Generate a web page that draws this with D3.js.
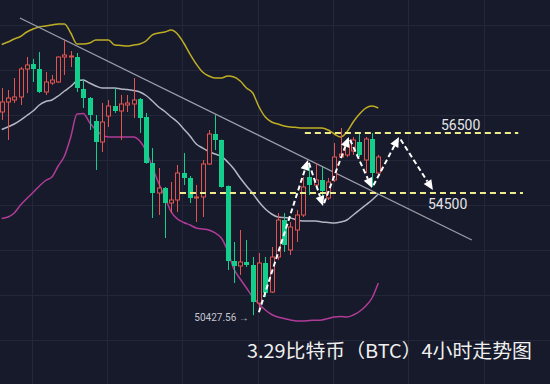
<!DOCTYPE html>
<html><head><meta charset="utf-8">
<script src="https://cdn.jsdelivr.net/npm/d3@7"></script>
<style>
html,body{margin:0;padding:0;background:#161a2a;overflow:hidden}
svg{display:block}
</style></head>
<body>
<svg id="chart" width="550" height="384"></svg>
<script>
// ---- Data (BTC 4h candles) ----
const opens  = [57200,57533,57600,57700,58633,58800,58633,57867,58167,58200,59033,59033,59033,57967,57667,56900,56200,57067,57400,57233,57433,57467,57633,57033,55500,54500,54667,54167,54267,55167,55000,54333,54367,55467,56467,56267,54733,52233,52067,52200,52100,50833,52167,51200,52367,53600,52600,53267,53767,55033,54767,54933,54333,54933,55700,55767,55900,56200,55600,56300,55167];
const highs  = [58000,57933,58333,58700,59033,58967,59200,58533,58433,59050,59600,59233,59167,58300,57700,57100,57500,57600,58000,57767,57767,58333,57667,57167,56000,55333,54700,54867,55433,55833,55067,54767,55600,56600,57100,56280,54750,52867,53267,52933,52367,52500,52367,52700,53833,53833,53533,53933,55033,55433,55500,55367,55000,56167,56667,56267,56367,56500,56367,56500,55767];
const lows   = [56933,56267,57500,57433,57833,58200,57833,57767,58100,58167,58433,58700,57867,57333,56600,55267,55867,56700,57167,56267,57200,57000,56500,55480,53667,53767,53000,53833,53867,54767,54167,53533,53700,55433,55933,54680,51933,51500,51767,52033,50427.56,50600,51033,51167,52267,52533,52433,52867,53700,54433,54667,54267,54267,54867,55667,55700,55767,55700,55167,54700,55150];
const closes = [57533,57667,57700,58633,58767,58633,57867,58200,58267,59033,59100,59067,58000,57667,57100,56200,56867,57400,57233,57467,57500,57600,57000,55500,54500,54667,54167,54267,55167,55000,54333,54367,55467,56467,56267,54700,52233,52067,52200,52100,50867,52167,51167,52367,53600,52767,53367,53767,54700,54767,54933,54567,54867,55700,55800,56100,56267,55767,56300,55167,55700];

// Bollinger bands
const bandUpper = [59450,59533,59633,59717,59867,59967,60033,60067,60100,60133,60133,59833,59467,59467,59500,59600,59600,59600,59433,59417,59400,59433,59467,59567,59767,59833,59867,59933,59800,59500,59133,58800,58533,58400,58333,58333,58400,58367,58233,58000,57833,57367,57033,56867,56800,56733,56700,56683,56667,56667,56667,56667,56600,56467,56367,56533,56867,57133,57333,57400,57333];
const bandMiddle = [56617,56700,56800,56933,57083,57233,57433,57550,57600,57733,57900,58050,58233,58267,58167,58067,58000,58000,58000,57967,57950,57917,57867,57750,57567,57367,57217,57033,56867,56633,56400,56133,56000,55883,55800,55717,55533,55300,55000,54733,54483,54200,53967,53800,53700,53683,53667,53600,53567,53567,53567,53533,53517,53500,53533,53600,53767,53933,54100,54267,54467];
const bandLower = [53650,53700,53833,54100,54317,54517,54733,54917,55033,55400,55733,56367,57133,57150,56850,56600,56433,56367,56367,56367,56367,56367,56233,55900,55367,54833,54367,53867,53633,53517,53433,53333,53300,53267,53167,53000,52567,51967,51633,51333,51033,50800,50600,50450,50367,50317,50267,50233,50233,50250,50257,50267,50317,50367,50383,50367,50433,50550,50733,51000,51500];

// Grid ticks
const gridIndex = [4.8, 16.8, 28.8, 40.8, 52.8, 64.8, 76.8];
const gridPrice = [49600, 51100, 52600, 54100, 55600, 57100, 58600, 60100];

// Annotations
const trendIndex = [2.9, 74.9];
const trendPrice = [60333, 52933];
const levelPrices = [56500, 54500];
const levelLabels = ["56500", "54500"];
const levelFrom = [48.3, 28.4];
const levelTo = [82.3, 83.05];
const zigIndex = [40.83, 48.8, 51.2, 55.3, 59.0, 63.3, 68.7];
const zigPrice = [50430, 55600, 54067, 56367, 54667, 56367, 54600];
const lowLabel = "50427.56 →";
const lowIndex = 40;
const titleText = "3.29比特币（BTC）4小时走势图";

// ---- Drawing ----
const W = 550, H = 384;
const svg = d3.select("#chart");
const x = d3.scaleLinear().domain([0, 60]).range([1.7, 378.3]);
const y = d3.scaleLinear().domain([56500, 54500]).range([133, 193]);
const BG = "#161a2a";
const UP = "#e2544f", DOWN = "#14cf8c";

svg.append("rect").attr("width", W).attr("height", H).attr("fill", BG);

// grid
const grid = svg.append("g").attr("stroke", "#232739").attr("stroke-width", 1);
grid.selectAll("line.v").data(gridIndex).enter().append("line")
  .attr("x1", d => Math.round(x(d)) + 0.5).attr("x2", d => Math.round(x(d)) + 0.5)
  .attr("y1", 0).attr("y2", H);
grid.selectAll("line.h").data(gridPrice).enter().append("line")
  .attr("y1", d => Math.round(y(d)) + 0.5).attr("y2", d => Math.round(y(d)) + 0.5)
  .attr("x1", 0).attr("x2", W);

// bands
const idx = d3.range(opens.length);
const bandLine = arr => d3.line().x(i => x(i)).y(i => y(arr[i])).curve(d3.curveMonotoneX)(idx);
svg.append("path").attr("d", bandLine(bandUpper)).attr("fill", "none").attr("stroke", "#bfae24").attr("stroke-width", 1.5);
svg.append("path").attr("d", bandLine(bandMiddle)).attr("fill", "none").attr("stroke", "#b4b6c4").attr("stroke-width", 1.5);
svg.append("path").attr("d", bandLine(bandLower)).attr("fill", "none").attr("stroke", "#b03c98").attr("stroke-width", 1.5);

// trend line
svg.append("line")
  .attr("x1", x(trendIndex[0])).attr("y1", y(trendPrice[0]))
  .attr("x2", x(trendIndex[1])).attr("y2", y(trendPrice[1]))
  .attr("stroke", "#9c9dab").attr("stroke-width", 1.3);

// candles
const cg = svg.append("g");
idx.forEach(i => {
  const o = opens[i], c = closes[i], h = highs[i], l = lows[i];
  const up = c >= o;
  const cx = Math.round(x(i)) + 0.5;
  const top = y(Math.max(o, c)), bot = y(Math.min(o, c));
  const col = up ? UP : DOWN;
  cg.append("line").attr("x1", cx).attr("x2", cx).attr("y1", y(h)).attr("y2", y(l))
    .attr("stroke", col).attr("stroke-width", 1);
  if (up) {
    cg.append("rect").attr("x", cx - 2).attr("y", top).attr("width", 4).attr("height", Math.max(1, bot - top))
      .attr("fill", BG).attr("stroke", col).attr("stroke-width", 1);
  } else {
    cg.append("rect").attr("x", cx - 2.5).attr("y", top).attr("width", 5).attr("height", Math.max(1, bot - top))
      .attr("fill", col);
  }
});

// level dashed lines
levelPrices.forEach((p, k) => {
  svg.append("line")
    .attr("x1", x(levelFrom[k])).attr("x2", x(levelTo[k]))
    .attr("y1", y(p)).attr("y2", y(p))
    .attr("stroke", "#eeec8c").attr("stroke-width", 2).attr("stroke-dasharray", "6,4");
});
svg.append("text").attr("x", 441).attr("y", y(levelPrices[0]) - 3)
  .attr("font-family", "Roboto, 'Noto Sans', sans-serif").attr("font-size", 14).attr("fill", "#e4e4e8")
  .text(levelLabels[0]);
svg.append("text").attr("x", 428).attr("y", y(levelPrices[1]) + 16)
  .attr("font-family", "Roboto, 'Noto Sans', sans-serif").attr("font-size", 14).attr("fill", "#e4e4e8")
  .text(levelLabels[1]);

// zigzag arrows
const ag = svg.append("g");
for (let k = 0; k < zigIndex.length - 1; k++) {
  const x0 = x(zigIndex[k]), y0 = y(zigPrice[k]);
  const x1 = x(zigIndex[k + 1]), y1 = y(zigPrice[k + 1]);
  const dx = x1 - x0, dy = y1 - y0, len = Math.hypot(dx, dy);
  const ux = dx / len, uy = dy / len;
  const head = 10, hw = 4.5;
  const sx = x0 + ux * 3, sy = y0 + uy * 3;
  const bx = x1 - ux * head, by = y1 - uy * head;
  ag.append("line").attr("x1", sx).attr("y1", sy).attr("x2", bx).attr("y2", by)
    .attr("stroke", "#ffffff").attr("stroke-width", 2).attr("stroke-dasharray", "5,3");
  ag.append("path")
    .attr("d", `M${x1},${y1}L${bx - uy * hw},${by + ux * hw}L${bx + uy * hw},${by - ux * hw}Z`)
    .attr("fill", "#ffffff");
}

// low label
svg.append("text").attr("x", x(lowIndex) - 4).attr("y", y(lows[lowIndex]) + 6)
  .attr("text-anchor", "end")
  .attr("font-family", "Roboto, 'Noto Sans', sans-serif").attr("font-size", 10).attr("fill", "#c4c6d0")
  .text(lowLabel);

// title
svg.append("text").attr("x", 247).attr("y", 358)
  .attr("font-family", "'Noto Sans CJK SC', sans-serif").attr("font-size", 19).attr("fill", "#f0f0f0")
  .attr("textLength", 285).attr("lengthAdjust", "spacingAndGlyphs")
  .text(titleText);
</script>
</body></html>
